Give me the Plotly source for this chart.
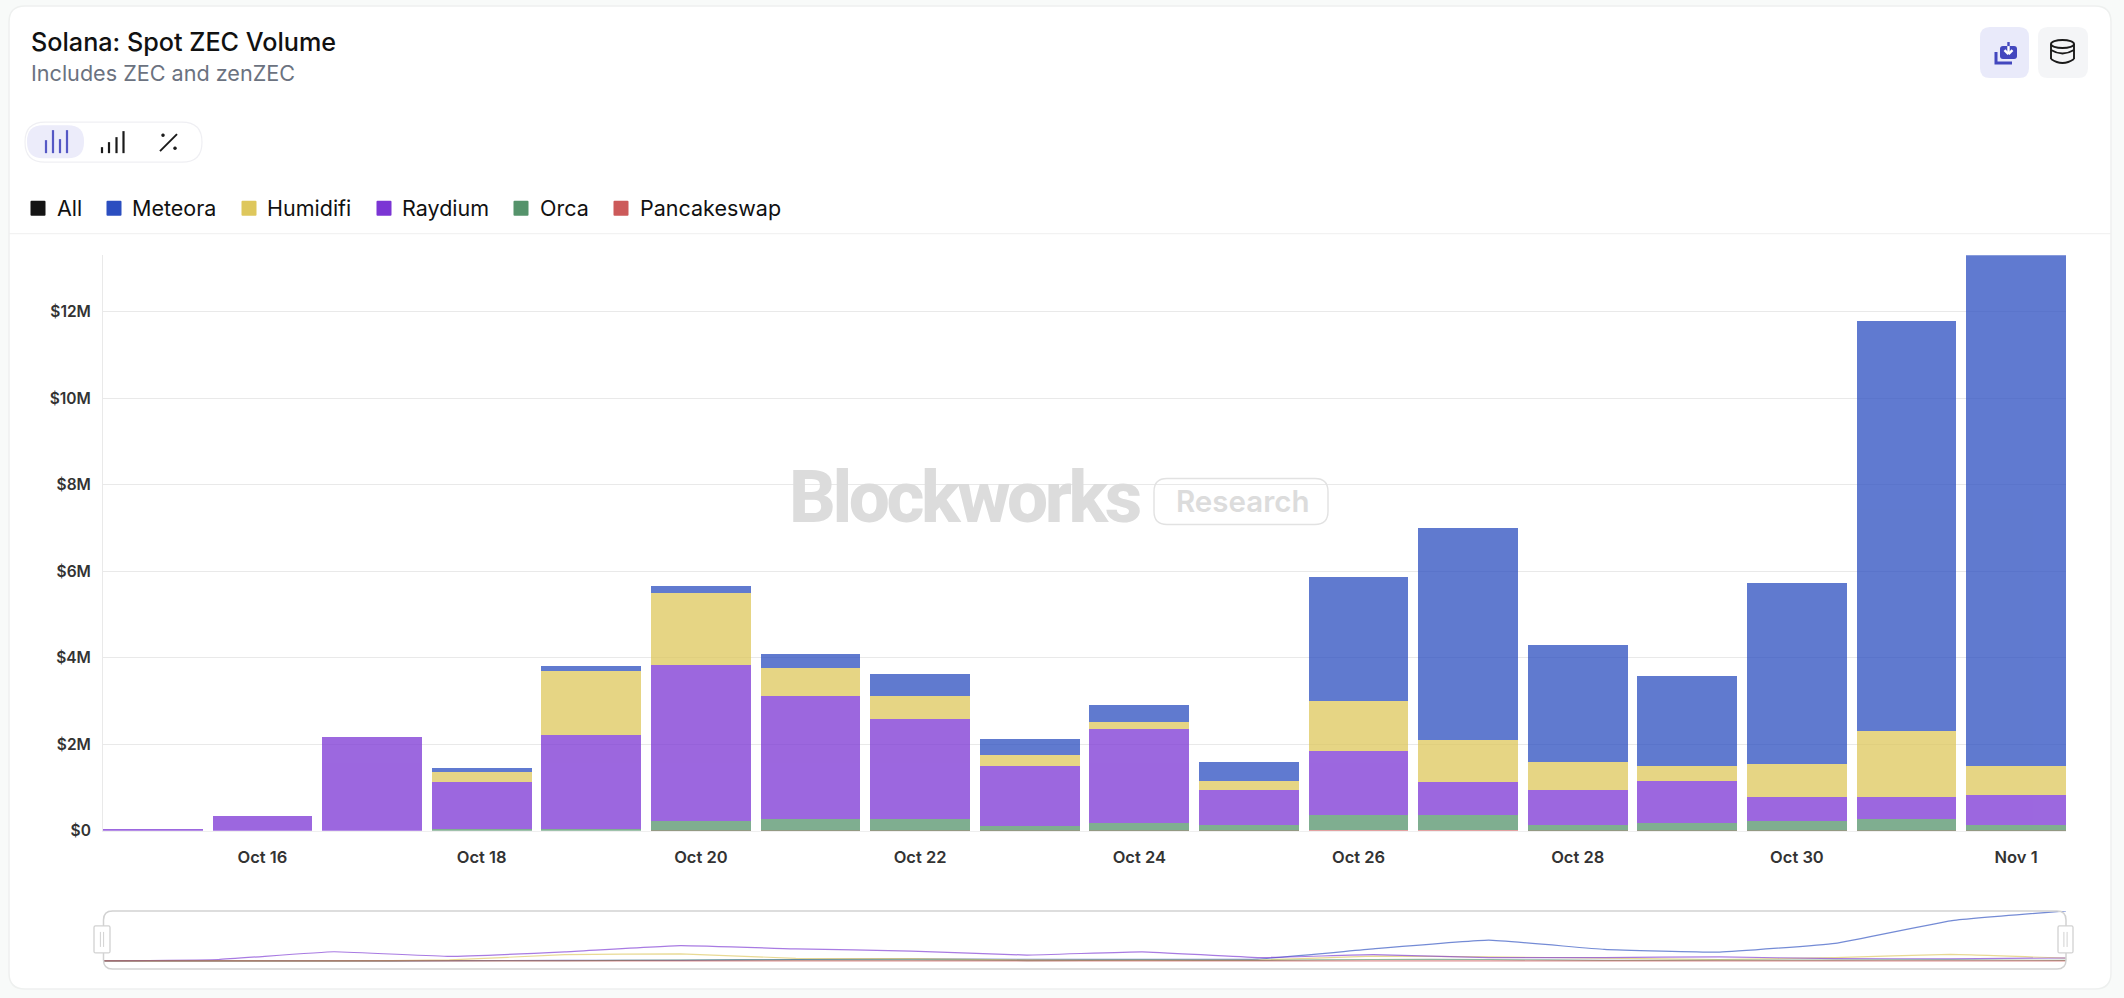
import plotly.graph_objects as go

W, H = 2124, 998
dates = ["2025-10-%02d" % d for d in range(15, 32)] + ["2025-11-01"]
pancakeswap = [0, 0, 0, 0, 0, 0.003, 0.005, 0.005, 0.003, 0.005, 0.003, 0.01, 0.01, 0.005, 0.005, 0.005, 0.005, 0.005]
orca = [0, 0, 0, 0.05, 0.05, 0.23, 0.27, 0.26, 0.1, 0.18, 0.13, 0.35, 0.35, 0.13, 0.18, 0.22, 0.26, 0.13]
raydium = [0.05, 0.35, 2.17, 1.07, 2.16, 3.61, 2.85, 2.33, 1.39, 2.16, 0.8, 1.49, 0.77, 0.8, 0.96, 0.55, 0.51, 0.7]
humidifi = [0, 0, 0, 0.25, 1.48, 1.66, 0.63, 0.53, 0.25, 0.18, 0.21, 1.16, 0.97, 0.65, 0.35, 0.78, 1.53, 0.66]
meteora = [0, 0, 0, 0.09, 0.12, 0.16, 0.34, 0.5, 0.38, 0.38, 0.44, 2.85, 4.91, 2.72, 2.09, 4.17, 9.48, 11.81]
y_ticks = [0, 2, 4, 6, 8, 10, 12]
y_labels = ["$0", "$2M", "$4M", "$6M", "$8M", "$10M", "$12M"]
legend_names = ["All", "Meteora", "Humidifi", "Raydium", "Orca", "Pancakeswap"]
legend_colors = ["#141414", "#2B4EC0", "#DEC75C", "#7B35D4", "#55936B", "#CC5A5A"]
FONT = "Inter"


def px(x):
    return x / W


def py(y):
    return 1 - y / H


def rrect(x0, y0, x1, y1, r):
    a, b, c, d = px(x0), py(y0), px(x1), py(y1)
    rx, ry = r / W, r / H
    return (f"M{a+rx},{b} L{c-rx},{b} Q{c},{b} {c},{b-ry} L{c},{d+ry} Q{c},{d} {c-rx},{d} "
            f"L{a+rx},{d} Q{a},{d} {a},{d+ry} L{a},{b-ry} Q{a},{b} {a+rx},{b} Z")


def seg(points):
    return "M" + " L".join(f"{px(x)},{py(y)}" for x, y in points)


shapes = []


def add_path(path, fill="rgba(0,0,0,0)", line="rgba(0,0,0,0)", width=1, layer="below"):
    shapes.append(dict(type="path", xref="paper", yref="paper", path=path, fillcolor=fill,
                       line=dict(color=line, width=width), layer=layer))


def add_line(x0, y0, x1, y1, color, width=1.5, layer="above"):
    shapes.append(dict(type="line", xref="paper", yref="paper", x0=px(x0), y0=py(y0), x1=px(x1), y1=py(y1),
                       line=dict(color=color, width=width), layer=layer))


def add_ellipse(x0, y0, x1, y1, fill, line, width=2):
    shapes.append(dict(type="circle", xref="paper", yref="paper", x0=px(x0), y0=py(y0), x1=px(x1), y1=py(y1),
                       fillcolor=fill, line=dict(color=line, width=width), layer="above"))


# card
add_path(rrect(9, 6, 2111, 988, 16), fill="#FFFFFF", line="#EEF0EF", width=1.5)
add_line(9, 233.5, 2111, 233.5, "#EFEFEF", 1, "below")

# toggle group
add_path(rrect(25, 122, 202, 162, 20), fill="#FFFFFF", line="#EFEFF3", width=1.2)
add_path(rrect(27, 125, 84, 158, 16), fill="#ECECFA")
for x, top in zip([46, 53, 60, 67], [140, 130, 139, 130]):
    add_line(x, top, x, 153, "#5558C5", 2.2)
for x, top in zip([102, 109, 116.5, 123.5], [147, 142, 137, 131]):
    add_line(x, top, x, 153, "#1A1A1A", 2.2)
add_line(160, 151, 177, 134, "#1A1A1A", 2)
add_ellipse(161.5, 133.5, 164.5, 136.5, "#1A1A1A", "#1A1A1A", 0.5)
add_ellipse(173.5, 146.5, 176.5, 149.5, "#1A1A1A", "#1A1A1A", 0.5)

# top right buttons
add_path(rrect(1980, 27, 2029, 78, 10), fill="#E9EAFA")
add_path(rrect(2038, 27, 2088, 78, 10), fill="#F4F5F7")
add_path(rrect(2000, 46, 2017, 59, 3), fill="#4347BE", layer="above")
add_line(2008.5, 46, 2008.5, 53, "#FFFFFF", 2.4)
add_line(2004.5, 50, 2008.5, 54, "#FFFFFF", 2.4)
add_line(2012.5, 50, 2008.5, 54, "#FFFFFF", 2.4)
add_line(2008.5, 42, 2008.5, 46, "#4347BE", 2.4)
add_path(seg([(1996, 52), (1996, 63), (2012, 63)]), line="#4347BE", width=3, layer="above")
add_ellipse(2051, 40, 2074, 48, "#F4F5F7", "#1A1A1A", 1.9)
add_line(2051, 44, 2051, 59, "#1A1A1A", 1.9)
add_line(2074, 44, 2074, 59, "#1A1A1A", 1.9)
add_path(f"M{px(2051)},{py(50)} Q{px(2062.5)},{py(57)} {px(2074)},{py(50)}", line="#1A1A1A", width=1.9, layer="above")
add_path(f"M{px(2051)},{py(59)} Q{px(2062.5)},{py(67)} {px(2074)},{py(59)}", line="#1A1A1A", width=1.9, layer="above")

# navigator frame
add_path(rrect(103.5, 910, 2066, 968, 9), line="#D2D2D2", width=1.5, layer="above")
for x0, x1 in [(94, 110), (2058, 2073)]:
    add_path(rrect(x0, 925, x1, 952, 1.5), fill="#FFFFFF", line="#D2D2D2", width=1.3, layer="above")
    mid = (x0 + x1) / 2
    add_line(mid - 1.6, 931, mid - 1.6, 946, "#D2D2D2", 1)
    add_line(mid + 1.6, 931, mid + 1.6, 946, "#D2D2D2", 1)

annotations = [
    dict(text="Solana: Spot ZEC Volume", x=px(28.5), y=py(42), font=dict(size=25.2, color="#111111", family=FONT, weight=500)),
    dict(text="Includes ZEC and zenZEC", x=px(28.5), y=py(73), font=dict(size=21.6, color="#6B7280", family=FONT, weight=400)),
    dict(text="Blockworks", x=px(770), y=py(497), font=dict(size=73, color="#DCDCDC", family="Roboto", weight=800)),
    dict(text="Research", x=px(1174), y=py(500), font=dict(size=29.5, color="#DCDCDC", family=FONT, weight=600)),
]
add_path(rrect(1154, 478, 1328, 524, 13), line="#E2E2E2", width=1.4, layer="above")

legend_swatches = [30.5, 106.5, 241.5, 376.5, 513.5, 613.5]
legend_text = [54.5, 129.5, 264.5, 399.5, 537.5, 637.5]
for name, color, sx, tx in zip(legend_names, legend_colors, legend_swatches, legend_text):
    add_path(rrect(sx, 200.5, sx + 15, 215.5, 1), fill=color, layer="above")
    annotations.append(dict(text=name, x=px(tx), y=py(208), font=dict(size=21.5, color="#111111", family=FONT, weight=400)))

for a in annotations:
    a.update(xref="paper", yref="paper", xanchor="left", yanchor="middle", showarrow=False)

fig = go.Figure()
stack = [("Pancakeswap", pancakeswap, 5), ("Orca", orca, 4), ("Raydium", raydium, 3), ("Humidifi", humidifi, 2), ("Meteora", meteora, 1)]
for name, vals, i in stack:
    fig.add_bar(x=dates, y=vals, name=name, marker=dict(color=legend_colors[i], line=dict(width=0)),
                opacity=0.75, showlegend=False, xaxis="x", yaxis="y")
for name, vals, i in reversed(stack):
    fig.add_scatter(x=dates, y=vals, name=name, mode="lines", line=dict(color=legend_colors[i], width=1.2, shape="spline", smoothing=0.3),
                    opacity=0.65, showlegend=False, xaxis="x2", yaxis="y2", hoverinfo="skip")

fig.update_layout(
    width=W, height=H + 10, barmode="stack", bargap=0.09,
    margin=dict(l=0, r=0, t=0, b=0), paper_bgcolor="#F8FAF9", plot_bgcolor="rgba(0,0,0,0)",
    showlegend=False, shapes=shapes, annotations=annotations,
    font=dict(family=FONT),
    xaxis=dict(domain=[px(103), px(2066)], type="date", range=["2025-10-14 13:05", "2025-11-01 10:55"],
               tickformat="%b %-d", tick0="2025-10-16", dtick=172800000, ticks="", showgrid=False,
               showline=True, linecolor="#EFEFEF", linewidth=1, anchor="y",
               tickfont=dict(size=16.5, color="#333333", family=FONT, weight=600), ticklabelstandoff=11),
    yaxis=dict(domain=[py(830), py(255)], range=[0, 13.31], tickvals=y_ticks, ticktext=y_labels, ticks="",
               gridcolor="#E9E9E9", gridwidth=1, showline=True, linecolor="#E9E9E9", linewidth=1, zeroline=False, anchor="x",
               tickfont=dict(size=15.5, color="#333333", family=FONT, weight=600), ticklabelstandoff=8),
    xaxis2=dict(domain=[px(103), px(2066)], type="date", range=["2025-10-15", "2025-11-01"], visible=False, anchor="y2"),
    yaxis2=dict(domain=[py(968), py(910)], range=[-1.89, 11.81], visible=False, anchor="x2"),
)

fig.write_html("out.html", config=dict(displayModeBar=False),
               post_script="document.body.style.margin='0';document.body.style.background='#F8FAF9';document.documentElement.style.overflow='hidden';"
                           "document.querySelectorAll('.annotation-text').forEach(function(t){if(t.textContent==='Blockworks'){t.style.letterSpacing='-3.4px';}});")
